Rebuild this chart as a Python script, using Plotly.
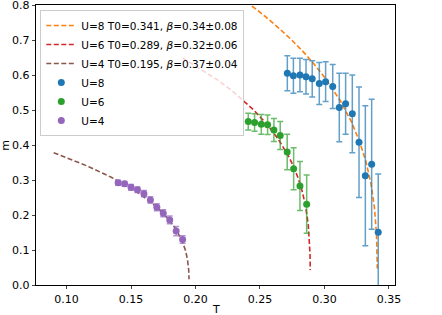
import numpy as np
import plotly.graph_objects as go

# ---- data ----
T_u8 = [0.2712, 0.2759, 0.2810, 0.2857, 0.2905, 0.2960, 0.3009, 0.3064,
        0.3115, 0.3164, 0.3216, 0.3268, 0.3317, 0.3366, 0.3417]
m_u8 = [0.605, 0.598, 0.600, 0.595, 0.589, 0.576, 0.581, 0.567,
        0.507, 0.518, 0.489, 0.408, 0.312, 0.345, 0.151]
e_u8 = [0.050, 0.050, 0.048, 0.049, 0.052, 0.060, 0.057, 0.063,
        0.098, 0.087, 0.111, 0.158, 0.200, 0.186, 0.166]

T_u6 = [0.2409, 0.2458, 0.2510, 0.2559, 0.2608, 0.2657, 0.2711, 0.2761, 0.2810, 0.2862]
m_u6 = [0.467, 0.464, 0.459, 0.458, 0.443, 0.427, 0.380, 0.332, 0.283, 0.231]
e_u6 = [0.024, 0.025, 0.028, 0.028, 0.033, 0.040, 0.051, 0.060, 0.070, 0.083]

T_u4 = [0.140, 0.145, 0.150, 0.155, 0.160, 0.165, 0.170, 0.175, 0.180, 0.185, 0.190]
m_u4 = [0.292, 0.289, 0.279, 0.272, 0.261, 0.243, 0.222, 0.205, 0.186, 0.154, 0.130]
e_u4 = [0.007, 0.007, 0.008, 0.008, 0.009, 0.009, 0.010, 0.010, 0.011, 0.013, 0.011]

# fit parameters  m = A (T0 - T)^beta
fit_labels = ["U=8 T0=0.341, <i>β</i>=0.34±0.08",
              "U=6 T0=0.289, <i>β</i>=0.32±0.06",
              "U=4 T0=0.195, <i>β</i>=0.37±0.04"]
fit_T0 = [0.341, 0.289, 0.195]
fit_beta = [0.34, 0.32, 0.37]
fit_A = [1.76, 1.36, 0.87]
fit_start = [0.22, 0.19, 0.09]
fit_colors = ["#ff7f0e", "#d62728", "#8c564b"]

data_labels = ["U=8", "U=6", "U=4"]
data_colors = ["#1f77b4", "#2ca02c", "#9467bd"]
bar_colors = ["rgba(31,119,180,0.7)", "rgba(44,160,44,0.7)", "rgba(148,103,189,0.7)"]

x_ticks = [0.10, 0.15, 0.20, 0.25, 0.30, 0.35]
y_ticks = [0.0, 0.1, 0.2, 0.3, 0.4, 0.5, 0.6, 0.7, 0.8]

fig = go.Figure()

for lab, T0, b, A, t0, c in zip(fit_labels, fit_T0, fit_beta, fit_A, fit_start, fit_colors):
    Tc = np.linspace(t0, T0, 5000)[:-1]
    mc = A * (T0 - Tc) ** b
    fig.add_trace(go.Scatter(x=Tc, y=mc, mode="lines", name=lab,
                             line=dict(color=c, width=1.6, dash="5px,2.5px")))

for lab, T, m, e, c, bc in zip(data_labels, [T_u8, T_u6, T_u4], [m_u8, m_u6, m_u4],
                               [e_u8, e_u6, e_u4], data_colors, bar_colors):
    fig.add_trace(go.Scatter(x=T, y=m, mode="markers", name=lab,
                             marker=dict(color=c, size=7),
                             error_y=dict(type="data", array=e, visible=True,
                                          color=bc, thickness=1.5, width=3)))

font = "DejaVu Sans"
fig.update_layout(
    width=442, height=315,
    margin=dict(l=36, r=47, t=5, b=30),
    plot_bgcolor="white", paper_bgcolor="white",
    font=dict(family=font, size=11, color="black"),
    showlegend=True,
    legend=dict(x=0.012, y=0.982, xanchor="left", yanchor="top",
                bgcolor="rgba(255,255,255,0.8)", bordercolor="#cccccc", borderwidth=1,
                font=dict(family=font, size=10.5), tracegroupgap=0,
                itemwidth=30),
    annotations=[
        dict(text="T", xref="paper", yref="paper", x=0.5, y=-0.087,
             xanchor="center", yanchor="middle", showarrow=False,
             font=dict(family=font, size=11)),
        dict(text="m", xref="paper", yref="paper", x=-0.087, y=0.5,
             xanchor="center", yanchor="middle", showarrow=False, textangle=-90,
             font=dict(family=font, size=11)),
    ],
)
fig.update_xaxes(range=[0.0763, 0.3547], tickvals=x_ticks,
                 tickformat=".2f", ticks="outside", ticklen=3.5, tickwidth=0.8,
                 showline=True, linecolor="black", linewidth=0.8, mirror=True,
                 showgrid=False, zeroline=False, automargin=False,
                 ticklabeloverflow="allow")
fig.update_yaxes(range=[0, 0.8], tickvals=y_ticks,
                 tickformat=".1f", ticks="outside", ticklen=3.5, tickwidth=0.8,
                 showline=True, linecolor="black", linewidth=0.8, mirror=True,
                 showgrid=False, zeroline=False, automargin=False,
                 ticklabeloverflow="allow")

fig.write_html("out.html", config={"displayModeBar": False},
               post_script="document.body.style.margin='0';document.body.style.overflow='hidden';")
